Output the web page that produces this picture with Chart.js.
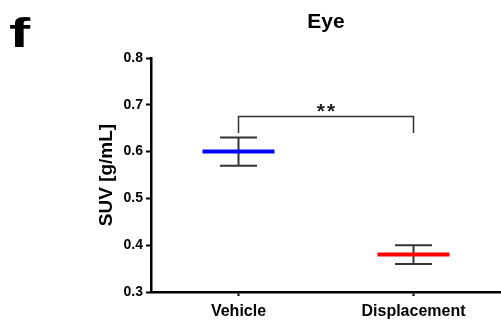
<!DOCTYPE html>
<html>
<head>
<meta charset="utf-8">
<script src="https://cdn.jsdelivr.net/npm/chart.js@4/dist/chart.umd.min.js"></script>
<style>
html,body{margin:0;padding:0;background:#fff;}
#wrap{width:501px;height:320px;position:relative;}
</style>
</head>
<body>
<div id="wrap"><canvas id="c" width="501" height="320"></canvas></div>
<script>
// ---- data ----
const categories = ['Vehicle', 'Displacement'];
const meanValues = [0.60, 0.38];
const errLow = [0.57, 0.36];
const errHigh = [0.63, 0.40];
const meanColors = ['#0000ff', '#ff0000'];
const yTickValues = [0.3, 0.4, 0.5, 0.6, 0.7, 0.8];
const bracketLevel = [0.675];
const bracketEnds = [0.64, 0.64];
const bracketLabel = ['**'];
const panelLetter = 'f';
const chartTitle = 'Eye';
const yTitle = 'SUV [g/mL]';

const SANS = "'Liberation Sans', Arial, Helvetica, sans-serif";

const datasets = [];
// mean lines
categories.forEach((c, i) => {
  datasets.push({
    type: 'scatter',
    data: [{x: i + 1, y: meanValues[i]}],
    pointStyle: 'line',
    pointRadius: 36,
    pointBorderWidth: 4,
    borderColor: meanColors[i],
    backgroundColor: meanColors[i],
    order: 0
  });
});
// error bars
categories.forEach((c, i) => {
  datasets.push({
    type: 'line',
    data: [{x: i + 1, y: errLow[i]}, {x: i + 1, y: errHigh[i]}],
    showLine: true,
    pointStyle: 'line',
    pointRadius: 18.5,
    pointBorderWidth: 2,
    borderWidth: 2,
    borderColor: '#333333',
    backgroundColor: '#333333',
    order: 1
  });
});
// significance bracket
datasets.push({
  type: 'line',
  data: [
    {x: 1, y: bracketEnds[0]},
    {x: 1, y: bracketLevel[0]},
    {x: 2, y: bracketLevel[0]},
    {x: 2, y: bracketEnds[1]}
  ],
  showLine: true,
  pointRadius: 0,
  borderWidth: 1.5,
  borderColor: '#333333',
  order: 2
});

const annotate = {
  id: 'annotate',
  afterDraw(chart) {
    const ctx = chart.ctx;
    const xs = chart.scales.x, ys = chart.scales.y;
    const a = chart.chartArea;
    ctx.save();
    ctx.fillStyle = '#222';
    // significance label
    ctx.font = "bold 21px " + SANS;
    ctx.textAlign = 'center';
    ctx.textBaseline = 'alphabetic';
    try { ctx.letterSpacing = '2px'; } catch (e) {}
    ctx.fillText(bracketLabel[0], (xs.getPixelForValue(1) + xs.getPixelForValue(2)) / 2 + 1, ys.getPixelForValue(bracketLevel[0]) + 1);
    try { ctx.letterSpacing = '0px'; } catch (e) {}
    // title
    ctx.fillStyle = '#000';
    ctx.font = "bold 21px " + SANS;
    ctx.fillText(chartTitle, (a.left + a.right) / 2, 28);
    // panel letter
    ctx.textAlign = 'left';
    ctx.font = "bold 41px " + SANS;
    ctx.translate(9, 47);
    ctx.scale(1.55, 1);
    ctx.fillText(panelLetter, 0, 0);
    ctx.restore();
  }
};

new Chart(document.getElementById('c'), {
  data: {datasets},
  options: {
    responsive: false,
    animation: false,
    events: [],
    layout: {autoPadding: false, padding: {left: 95, top: 58, right: 0, bottom: 0}},
    plugins: {legend: {display: false}, tooltip: {enabled: false}, title: {display: false}},
    scales: {
      x: {
        type: 'linear',
        min: 0.5,
        max: 2.5,
        afterBuildTicks: (s) => { s.ticks = categories.map((c, i) => ({value: i + 1})); },
        afterFit: (s) => { s.height = 28; s.paddingLeft = 0; s.paddingRight = 0; s.paddingTop = 0; s.paddingBottom = 0; },
        ticks: {
          callback: (v) => categories[v - 1],
          color: '#000',
          font: {family: SANS, size: 16, weight: 'bold'},
          padding: 6,
          maxRotation: 0
        },
        grid: {drawOnChartArea: false, drawTicks: true, tickLength: 4, tickWidth: 2, tickColor: '#000'},
        border: {display: true, color: '#000', width: 2.5}
      },
      y: {
        type: 'linear',
        min: 0.3,
        max: 0.8,
        afterBuildTicks: (s) => { s.ticks = yTickValues.map(v => ({value: v})); },
        afterFit: (s) => { s.width = 56; s.paddingLeft = 0; s.paddingRight = 0; s.paddingTop = 0; s.paddingBottom = 0; },
        ticks: {
          callback: (v) => Number(v).toFixed(1),
          color: '#000',
          font: {family: SANS, size: 14, weight: 'bold'},
          padding: 3
        },
        title: {
          display: true,
          text: yTitle,
          color: '#000',
          font: {family: SANS, size: 19, weight: 'bold'},
          padding: {top: 0, bottom: 0}
        },
        grid: {drawOnChartArea: false, drawTicks: true, tickLength: 5, tickWidth: 2, tickColor: '#000'},
        border: {display: true, color: '#000', width: 2.5}
      }
    }
  },
  plugins: [annotate]
});
</script>
</body>
</html>
